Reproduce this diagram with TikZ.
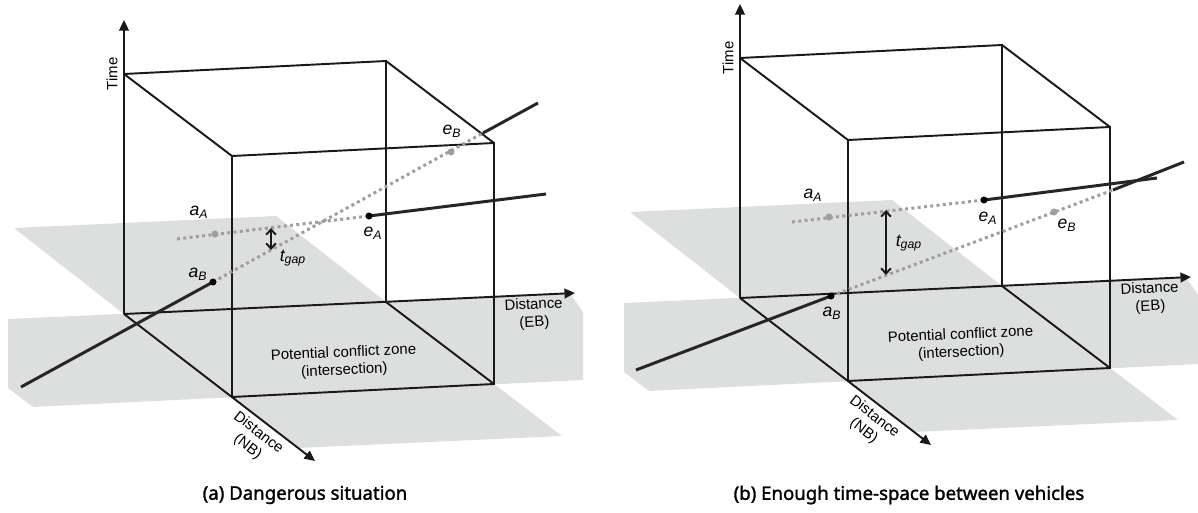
\documentclass[tikz,border=0pt]{standalone}
\usepackage{fontspec}
\setmainfont{Liberation Sans}
\newfontfamily\capfont[FakeBold=1.6]{Noto Sans}
\usetikzlibrary{arrows.meta}
\definecolor{roadgray}{RGB}{221,222,222}
\definecolor{pathgray}{RGB}{158,158,158}

\begin{document}
\begin{tikzpicture}[x=0.02cm, y=-0.02cm,
  frame/.style={line width=1.1pt, black!90},
  axis/.style={frame, -{Triangle[length=6pt,width=5.5pt]}},
  car/.style={line width=1.7pt, black!85},
  ghost/.style={line width=1.7pt, pathgray, dash pattern=on 1.7pt off 1.9pt},
  gaparrow/.style={line width=1.1pt, black!90, {Straight Barb[length=3pt,width=5.5pt]}-{Straight Barb[length=3pt,width=5.5pt]}},
  bdot/.style={circle, fill=black, inner sep=0pt, minimum size=4pt},
  gdot/.style={circle, fill=pathgray, inner sep=0pt, minimum size=4pt},
  lab/.style={font=\fontsize{10}{12}\selectfont\itshape},
  txt/.style={font=\fontsize{8.5}{10}\selectfont, align=center},
  captext/.style={font=\capfont\fontsize{10.6}{13}\selectfont}]
\useasboundingbox (0,0) rectangle (1198,513);

% (a) dangerous situation
\fill[roadgray] (8,319) -- (570,293.5) -- (583,312) -- (583,380) -- (33,407) -- (8,388) -- cycle;
\fill[roadgray] (124,314) -- (386,302) -- (276,216) -- (14,228) -- cycle;
\fill[roadgray] (232,397) -- (494,384) -- (562,436) -- (298,448) -- cycle;

\coordinate (Oa) at (124,314);
\coordinate (BBRa) at (386,302);
\coordinate (BTLa) at (124,74);
\coordinate (BTRa) at (386,61);
\coordinate (FBLa) at (232,397);
\coordinate (FBRa) at (494,384);
\coordinate (FTLa) at (232,156);
\coordinate (FTRa) at (494,143);
\coordinate (Ta) at (124,20);
\coordinate (EBa) at (575,293);
\coordinate (NBa) at (315,461);

\draw[axis] (Oa) -- (Ta);
\draw[axis] (Oa) -- (EBa);
\draw[axis] (Oa) -- (NBa);
\draw[frame] (BTLa) -- (BTRa) -- (BBRa);
\draw[frame] (FTLa) -- (FTRa) -- (FBRa) -- (FBLa) -- cycle;
\draw[frame] (BTLa) -- (FTLa);
\draw[frame] (BTRa) -- (FTRa);
\draw[frame] (BBRa) -- (FBRa);

\node[txt, rotate=90] (timea) at (112,74) {Time};
\node[txt, rotate=2.6] (eba) at (534,314) {Distance\\(EB)};
\node[txt, rotate=-37.5] (nba) at (253,440) {Distance\\(NB)};
\node[txt, rotate=2.6] (zonea) at (344,362) {Potential conflict zone\\(intersection)};

\coordinate (sAa) at (177,239);
\coordinate (aAa) at (215,234);
\coordinate (eAa) at (369,216);
\coordinate (fAa) at (546,194);
\coordinate (sBa) at (21,387);
\coordinate (aBa) at (213,282);
\coordinate (eBa) at (451,152);
\coordinate (xBa) at (483,133);
\coordinate (fBa) at (538,103);
\coordinate (g1a) at (271,228);
\coordinate (g2a) at (271,250);

\draw[ghost] (sAa) -- (eAa);
\draw[car] (eAa) -- (fAa);
\draw[car] (sBa) -- (aBa);
\draw[ghost] (aBa) -- (xBa);
\draw[car] (xBa) -- (fBa);
\draw[gaparrow] (g1a) -- (g2a);

\node[gdot] (daAa) at (aAa) {};
\node[bdot] (deAa) at (eAa) {};
\node[bdot] (daBa) at (aBa) {};
\node[gdot] (deBa) at (eBa) {};

\node[lab] (laAa) at (199,212) {a\textsubscript{A}};
\node[lab] (leAa) at (373,233) {e\textsubscript{A}};
\node[lab] (laBa) at (198,274) {a\textsubscript{B}};
\node[lab] (leBa) at (452,131) {e\textsubscript{B}};
\node[lab] (lgapa) at (293,258) {t\textsubscript{gap}};

\node[captext] (capa) at (305,495) {(a) Dangerous situation};

% (b) enough time-space
\begin{scope}[shift={(616,-16)}]
\fill[roadgray] (8,319) -- (570,293.5) -- (583,312) -- (583,380) -- (33,407) -- (8,388) -- cycle;
\fill[roadgray] (124,314) -- (386,302) -- (276,216) -- (14,228) -- cycle;
\fill[roadgray] (232,397) -- (494,384) -- (562,436) -- (298,448) -- cycle;

\coordinate (Ob) at (124,314);
\coordinate (BBRb) at (386,302);
\coordinate (BTLb) at (124,74);
\coordinate (BTRb) at (386,61);
\coordinate (FBLb) at (232,397);
\coordinate (FBRb) at (494,384);
\coordinate (FTLb) at (232,156);
\coordinate (FTRb) at (494,143);
\coordinate (Tb) at (124,20);
\coordinate (EBb) at (575,293);
\coordinate (NBb) at (315,461);

\draw[axis] (Ob) -- (Tb);
\draw[axis] (Ob) -- (EBb);
\draw[axis] (Ob) -- (NBb);
\draw[frame] (BTLb) -- (BTRb) -- (BBRb);
\draw[frame] (FTLb) -- (FTRb) -- (FBRb) -- (FBLb) -- cycle;
\draw[frame] (BTLb) -- (FTLb);
\draw[frame] (BTRb) -- (FTRb);
\draw[frame] (BBRb) -- (FBRb);

\node[txt, rotate=90] (timeb) at (112,74) {Time};
\node[txt, rotate=2.6] (ebb) at (534,314) {Distance\\(EB)};
\node[txt, rotate=-37.5] (nbb) at (253,440) {Distance\\(NB)};
\node[txt, rotate=2.6] (zoneb) at (345,360) {Potential conflict zone\\(intersection)};

\coordinate (sAb) at (176,238);
\coordinate (aAb) at (213,233);
\coordinate (eAb) at (368,216);
\coordinate (fAb) at (541,194);
\coordinate (sBb) at (20,386);
\coordinate (aBb) at (215,312);
\coordinate (eBb) at (438,228);
\coordinate (xBb) at (497,206);
\coordinate (fBb) at (568,178);
\coordinate (g1b) at (270,226);
\coordinate (g2b) at (270,291);

\draw[ghost] (sAb) -- (eAb);
\draw[car] (eAb) -- (fAb);
\draw[car] (sBb) -- (aBb);
\draw[ghost] (aBb) -- (xBb);
\draw[car] (xBb) -- (fBb);
\draw[gaparrow] (g1b) -- (g2b);

\node[gdot] (daAb) at (aAb) {};
\node[bdot] (deAb) at (eAb) {};
\node[bdot] (daBb) at (aBb) {};
\node[gdot] (deBb) at (eBb) {};

\node[lab] (laAb) at (197,211) {a\textsubscript{A}};
\node[lab] (leAb) at (372,234) {e\textsubscript{A}};
\node[lab] (laBb) at (216,329) {a\textsubscript{B}};
\node[lab] (leBb) at (451,241) {e\textsubscript{B}};
\node[lab] (lgapb) at (293,259) {t\textsubscript{gap}};
\end{scope}

\node[captext] (capb) at (909,495) {(b) Enough time-space between vehicles};

\end{tikzpicture}
\end{document}
